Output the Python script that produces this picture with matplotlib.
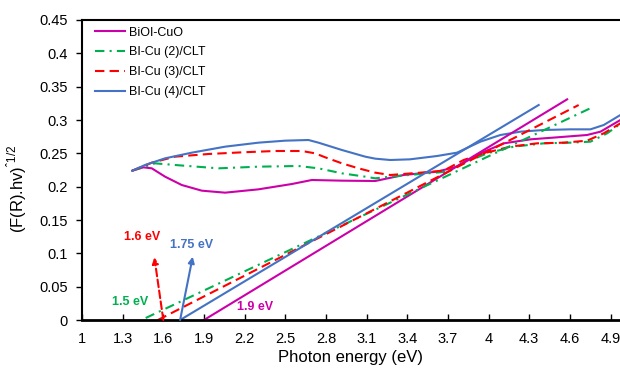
#!/usr/bin/env python3
"""Tauc plot: (F(R).hv)^1/2 vs photon energy for BiOI-CuO and BI-Cu/CLT samples."""

import matplotlib
matplotlib.use("Agg")
import matplotlib.pyplot as plt

plt.rcParams["font.family"] = ["Liberation Sans", "DejaVu Sans"]

# absorption curves (eV, (F(R).hv)^1/2)
bioi_x = [1.371, 1.453, 1.515, 1.613, 1.736, 1.884, 2.056, 2.302, 2.549, 2.696, 2.918, 3.164,
          3.373, 3.62, 3.767, 3.94, 4.112, 4.31, 4.506, 4.727, 4.826, 4.973]
bioi_y = [0.224, 0.229, 0.2275, 0.215, 0.2025, 0.194, 0.191, 0.196, 0.204, 0.21, 0.209, 0.2085,
          0.2175, 0.2225, 0.23, 0.25, 0.265, 0.271, 0.274, 0.2775, 0.2825, 0.30]

c2_x = [1.371, 1.539, 1.687, 2.007, 2.302, 2.597, 2.745, 2.918, 3.09, 3.164, 3.275, 3.496,
        3.693, 3.84, 3.99, 4.185, 4.407, 4.604, 4.752, 4.875, 4.961]
c2_y = [0.224, 0.235, 0.2325, 0.2275, 0.23, 0.231, 0.2275, 0.22, 0.215, 0.2125, 0.215, 0.219,
        0.2225, 0.2375, 0.25, 0.26, 0.265, 0.266, 0.2675, 0.28, 0.2925]

c3_x = [1.371, 1.515, 1.687, 1.933, 2.18, 2.425, 2.623, 2.72, 2.795, 2.918, 3.04, 3.164, 3.275,
        3.496, 3.668, 3.816, 3.964, 4.16, 4.358, 4.555, 4.727, 4.85, 4.973]
c3_y = [0.224, 0.236, 0.245, 0.249, 0.2515, 0.2535, 0.2535, 0.25, 0.244, 0.235, 0.2275, 0.221, 0.2175,
        0.221, 0.224, 0.24, 0.25, 0.26, 0.265, 0.266, 0.269, 0.28, 0.295]

c4_x = [1.371, 1.465, 1.613, 1.81, 2.056, 2.302, 2.499, 2.671, 2.745, 2.918, 3.09, 3.164, 3.275,
        3.42, 3.62, 3.767, 3.94, 4.087, 4.235, 4.407, 4.604, 4.752, 4.85, 4.973]
c4_y = [0.224, 0.2325, 0.2425, 0.251, 0.26, 0.266, 0.269, 0.27, 0.266, 0.255, 0.245, 0.242, 0.24,
        0.241, 0.246, 0.251, 0.2675, 0.2775, 0.2825, 0.285, 0.286, 0.286, 0.2925, 0.3075]

# tangent lines (start, end)
fit_bioi_x = [1.90, 4.58]
fit_bioi_y = [0.0, 0.331]
fit_c2_x = [1.47, 4.75]
fit_c2_y = [0.003, 0.3175]
fit_c3_x = [1.56, 4.665]
fit_c3_y = [0.0, 0.3225]
fit_c4_x = [1.724, 4.37]
fit_c4_y = [0.0, 0.3225]

x_ticks = [1, 1.3, 1.6, 1.9, 2.2, 2.5, 2.8, 3.1, 3.4, 3.7, 4, 4.3, 4.6, 4.9]
y_ticks = [0, 0.05, 0.1, 0.15, 0.2, 0.25, 0.3, 0.35, 0.4, 0.45]

MAGENTA = "#CC00A8"
GREEN = "#00B050"
RED = "#FF0000"
BLUE = "#4472C4"
DASH = (0, (4.5, 2.5))
DASHDOT = (0, (4.5, 2.5, 1, 2.5))


def fmt(v):
    return f"{v:.2f}".rstrip("0").rstrip(".")


fig = plt.figure(figsize=(6.2, 3.71), dpi=100)
ax = fig.add_axes([82 / 620, 1 - 320 / 371, 1 - 82 / 620, 300 / 371])

lw = 1.5
ax.plot(bioi_x, bioi_y, color=MAGENTA, lw=lw, label="BiOI-CuO")
ax.plot(c2_x, c2_y, color=GREEN, lw=lw, linestyle=DASHDOT, label="BI-Cu (2)/CLT")
ax.plot(c3_x, c3_y, color=RED, lw=lw, linestyle=DASH, label="BI-Cu (3)/CLT")
ax.plot(c4_x, c4_y, color=BLUE, lw=lw, label="BI-Cu (4)/CLT")

ax.plot(fit_bioi_x, fit_bioi_y, color=MAGENTA, lw=lw)
ax.plot(fit_c2_x, fit_c2_y, color=GREEN, lw=lw, linestyle=DASHDOT)
ax.plot(fit_c3_x, fit_c3_y, color=RED, lw=lw, linestyle=DASH)
ax.plot(fit_c4_x, fit_c4_y, color=BLUE, lw=lw)

# band-gap arrows and labels
ax.annotate("", xy=(1.534, 0.094), xytext=(1.60, 0.0),
            arrowprops=dict(arrowstyle="-|>", color=RED, lw=lw, linestyle="--",
                            mutation_scale=9, shrinkA=0, shrinkB=0))
ax.annotate("", xy=(1.817, 0.095), xytext=(1.724, 0.0),
            arrowprops=dict(arrowstyle="-|>", color=BLUE, lw=lw,
                            mutation_scale=9, shrinkA=0, shrinkB=0))
ax.text(1.44, 0.125, "1.6 eV", color=RED, fontsize=9, fontweight="bold", ha="center", va="center")
ax.text(1.81, 0.1125, "1.75 eV", color=BLUE, fontsize=9, fontweight="bold", ha="center", va="center")
ax.text(1.355, 0.0275, "1.5 eV", color=GREEN, fontsize=9, fontweight="bold", ha="center", va="center")
ax.text(2.28, 0.02, "1.9 eV", color=MAGENTA, fontsize=9, fontweight="bold", ha="center", va="center")

ax.set_xlim(1, 4.97)
ax.set_ylim(0, 0.45)
ax.set_xticks(x_ticks)
ax.set_xticklabels([fmt(v) for v in x_ticks])
ax.set_yticks(y_ticks)
ax.set_yticklabels([fmt(v) for v in y_ticks])
ax.tick_params(axis="x", direction="in", length=4, width=1, labelsize=10.5, pad=8.5)
ax.tick_params(axis="y", direction="out", length=4, width=1, labelsize=10.5, pad=6)

ax.spines["right"].set_visible(False)
ax.spines["left"].set_linewidth(1.5)
ax.spines["bottom"].set_linewidth(2)
ax.spines["top"].set_linewidth(1.5)

ax.set_xlabel("Photon energy (eV)", fontsize=12, labelpad=3)
ax.set_ylabel("(F(R).hv)$^{\\mathregular{ˆ1/2}}$", fontsize=12)
ax.yaxis.set_label_coords(-0.098, 0.437)

ax.legend(loc="upper left", bbox_to_anchor=(0.024, 0.978), frameon=False, fontsize=9,
          handlelength=2.4, handletextpad=0.3, labelspacing=0.63, borderpad=0, borderaxespad=0)

fig.savefig("out.png", dpi=100)
plt.close(fig)
